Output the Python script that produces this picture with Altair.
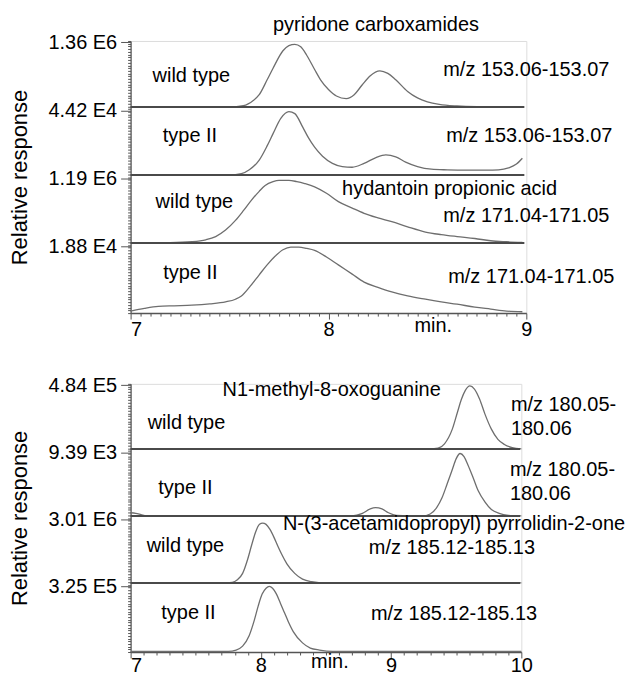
import altair as alt
import pandas as pd

FONT = "Liberation Sans"
TRACE_COLOR = "#6e6e6e"
LINE_COLOR = "#4a4a4a"
AXIS_COLOR = "#555555"
FS = 20

# ---------------- top panel: retention time 7-9 min ----------------
top_band_labels = ["1.88 E4", "1.19 E6", "4.42 E4", "1.36 E6"]  # bottom band -> top band

# band 3: pyridone carboxamides, wild type
p_wt_x = [7.0, 7.50, 7.57, 7.62, 7.65, 7.69, 7.72, 7.77, 7.80, 7.83, 7.86, 7.89, 7.93, 7.96, 8.00,
          8.04, 8.09, 8.13, 8.17, 8.21, 8.26, 8.30, 8.34, 8.40, 8.45, 8.50, 8.56, 8.65, 8.75, 8.98]
p_wt_y = [0, 0, 0.02, 0.10, 0.19, 0.42, 0.60, 0.87, 0.95, 0.97, 0.93, 0.80, 0.58, 0.42, 0.27,
          0.17, 0.13, 0.19, 0.34, 0.48, 0.56, 0.52, 0.42, 0.24, 0.14, 0.08, 0.04, 0.015, 0.005, 0]
# band 2: pyridone carboxamides, type II
p_t2_x = [7.0, 7.50, 7.56, 7.60, 7.65, 7.69, 7.72, 7.76, 7.80, 7.83, 7.87, 7.90, 7.93, 7.97, 8.02,
          8.07, 8.12, 8.18, 8.24, 8.29, 8.34, 8.39, 8.45, 8.52, 8.60, 8.70, 8.80, 8.86, 8.91, 8.95, 8.98]
p_t2_y = [0, 0, 0.02, 0.08, 0.23, 0.45, 0.64, 0.88, 0.98, 0.95, 0.74, 0.57, 0.43, 0.29, 0.18,
          0.13, 0.12, 0.18, 0.27, 0.31, 0.28, 0.20, 0.13, 0.09, 0.08, 0.075, 0.075, 0.08, 0.11, 0.17, 0.26]
# band 1: hydantoin propionic acid, wild type
h_wt_x = [7.0, 7.20, 7.31, 7.38, 7.43, 7.48, 7.53, 7.57, 7.61, 7.65, 7.68, 7.72, 7.75, 7.80, 7.84, 7.88,
          7.93, 7.99, 8.05, 8.12, 8.18, 8.25, 8.32, 8.40, 8.49, 8.57, 8.65, 8.74, 8.82, 8.90, 8.98]
h_wt_y = [0, 0.005, 0.02, 0.05, 0.10, 0.20, 0.35, 0.50, 0.66, 0.80, 0.89, 0.95, 0.97, 0.97, 0.95, 0.92,
          0.87, 0.77, 0.64, 0.54, 0.46, 0.39, 0.33, 0.25, 0.17, 0.13, 0.10, 0.07, 0.035, 0.02, 0.01]
# band 0: hydantoin propionic acid, type II
h_t2_x = [7.0, 7.07, 7.14, 7.22, 7.31, 7.40, 7.48, 7.53, 7.56, 7.60, 7.65, 7.69, 7.73, 7.77, 7.81, 7.85,
          7.89, 7.93, 7.99, 8.05, 8.12, 8.18, 8.25, 8.32, 8.40, 8.49, 8.57, 8.65, 8.74, 8.82, 8.90, 8.98]
h_t2_y = [0.02, 0.06, 0.09, 0.10, 0.11, 0.13, 0.16, 0.20, 0.25, 0.38, 0.57, 0.72, 0.85, 0.95, 0.99, 0.99,
          0.97, 0.94, 0.84, 0.72, 0.58, 0.46, 0.38, 0.31, 0.25, 0.20, 0.16, 0.125, 0.08, 0.05, 0.02, 0.01]

top_text = ["pyridone carboxamides", "wild type", "m/z 153.06-153.07", "type II", "m/z 153.06-153.07",
            "wild type", "hydantoin propionic acid", "m/z 171.04-171.05", "type II", "m/z 171.04-171.05", "min."]
top_text_x = [8.24, 7.307, 9.0, 7.30, 9.015, 7.322, 8.612, 9.0, 7.302, 9.025, 8.53]
top_text_y = [4.23, 3.49, 3.57, 2.61, 2.60, 1.64, 1.82, 1.42, 0.59, 0.53, -0.19]
top_text_align = ["center"] * 11

# ---------------- bottom panel: retention time 7-10 min ----------------
bot_band_labels = ["3.25 E5", "3.01 E6", "9.39 E3", "4.84 E5"]

# band 3: N1-methyl-8-oxoguanine, wild type
n_wt_x = [7.0, 9.30, 9.36, 9.41, 9.47, 9.51, 9.54, 9.57, 9.605, 9.64, 9.68, 9.72, 9.77, 9.82, 9.87, 9.93, 10.0]
n_wt_y = [0, 0, 0.01, 0.08, 0.31, 0.58, 0.78, 0.92, 0.99, 0.94, 0.78, 0.55, 0.31, 0.15, 0.07, 0.02, 0]
# band 2: N1-methyl-8-oxoguanine, type II
n_t2_x = [7.0, 7.04, 7.08, 7.12, 8.70, 8.78, 8.84, 8.88, 8.93, 8.98, 9.04, 9.24, 9.30, 9.35, 9.39, 9.43,
          9.47, 9.50, 9.53, 9.56, 9.59, 9.63, 9.67, 9.72, 9.77, 9.83, 9.90, 10.0]
n_t2_y = [0.05, 0.04, 0.02, 0.0, 0.0, 0.04, 0.11, 0.13, 0.11, 0.05, 0.01, 0.0, 0.03, 0.13, 0.28, 0.50,
          0.73, 0.90, 0.98, 0.93, 0.80, 0.60, 0.39, 0.22, 0.10, 0.04, 0.01, 0]
# band 1: N-(3-acetamidopropyl) pyrrolidin-2-one, wild type
a_wt_x = [7.0, 7.70, 7.78, 7.82, 7.86, 7.90, 7.93, 7.96, 7.99, 8.014, 8.04, 8.07, 8.10, 8.13, 8.16, 8.20,
          8.26, 8.32, 8.39, 8.50, 10.0]
a_wt_y = [0, 0, 0.01, 0.05, 0.15, 0.38, 0.60, 0.80, 0.92, 0.94, 0.92, 0.84, 0.72, 0.58, 0.45, 0.30,
          0.15, 0.06, 0.02, 0, 0]
# band 0: N-(3-acetamidopropyl) pyrrolidin-2-one, type II
a_t2_x = [7.0, 7.75, 7.81, 7.86, 7.91, 7.95, 7.98, 8.01, 8.04, 8.065, 8.09, 8.12, 8.15, 8.18, 8.21, 8.25,
          8.32, 8.38, 8.45, 8.55, 10.0]
a_t2_y = [0, 0, 0.02, 0.08, 0.24, 0.48, 0.70, 0.88, 0.97, 1.0, 0.97, 0.88, 0.74, 0.60, 0.46, 0.30,
          0.13, 0.05, 0.02, 0, 0]

bot_text = ["N1-methyl-8-oxoguanine", "wild type", "m/z 180.05-", "180.06", "type II", "m/z 180.05-", "180.06",
            "wild type", "N-(3-acetamidopropyl) pyrrolidin-2-one", "m/z 185.12-185.13", "type II",
            "m/z 185.12-185.13", "min."]
bot_text_x = [8.544, 7.429, 9.92, 9.92, 7.421, 9.912, 9.912, 7.421, 9.483, 9.467, 7.444, 9.483, 8.53]
bot_text_y = [3.91, 3.42, 3.69, 3.33, 2.44, 2.71, 2.35, 1.58, 1.91, 1.55, 0.58, 0.57, -0.15]
bot_text_align = ["center", "center", "left", "left", "center", "left", "left",
                  "center", "center", "center", "center", "center", "center"]


def build_panel(traces, band_labels, texts, xs, ys, aligns, xmin, xmax, xstep, width, height, xpad):
    rows = []
    for band, (tx, ty) in enumerate(traces):
        base = 0.01 if band == 0 else band + 0.03
        top = band + 0.98
        for x, n in zip(tx, ty):
            rows.append({"trace": band, "x": x, "y": base + n * (top - base)})
    df = pd.DataFrame(rows)

    sep = pd.DataFrame({"x": [xmin] * 3, "x1": [xmax - 0.01] * 3,
                        "y": [round(b + 0.03, 2) for b in (1, 2, 3)]})

    tdf = pd.DataFrame({"text": texts, "x": xs, "y": ys, "align": aligns})

    majors = [round(k + 0.98, 2) for k in range(4)]
    minors = [round(i * 0.04, 2) for i in range(101)]
    minors = [m for m in minors if all(abs(m - M) > 0.015 for M in majors)]
    yvals = sorted(minors + majors)
    lab_expr = "".join(
        f"abs(datum.value - {M}) < 0.001 ? '{L}' : " for M, L in zip(majors, band_labels)) + "''"
    major_test = " || ".join(f"abs(datum.value - {M}) < 0.001" for M in majors)

    nx = int(round((xmax - xmin) / xstep))
    xvals = [round(xmin + i * xstep, 3) for i in range(nx + 1)]
    x_test = "abs(datum.value - round(datum.value)) < 0.001"

    xscale = alt.Scale(domain=[xmin, xmax], nice=False, zero=False)
    yscale = alt.Scale(domain=[0, 4], nice=False, zero=False)

    xaxis = alt.Axis(values=xvals, title=None, grid=False,
                     labelExpr=f"{x_test} ? format(datum.value, 'd') : ''",
                     tickSize={"condition": {"test": x_test, "value": 6}, "value": 3},
                     labelAlign={"condition": {"test": f"datum.value == {xmin}", "value": "left"},
                                 "value": "center"},
                     labelFlush=False,
                     labelFont=FONT, labelFontSize=FS, labelColor="black", labelPadding=xpad,
                     labelOverlap=False, labelBound=False, domainColor=AXIS_COLOR, domainWidth=1.5,
                     tickColor=AXIS_COLOR, tickWidth=1)
    yaxis = alt.Axis(values=yvals, title="Relative response", grid=False, labelExpr=lab_expr,
                     tickSize={"condition": {"test": major_test, "value": 10}, "value": 3},
                     labelFont=FONT, labelFontSize=FS, labelColor="black", labelPadding=4,
                     labelOverlap=False, labelBound=False, domainColor=AXIS_COLOR, domainWidth=1.2,
                     tickColor=AXIS_COLOR, tickWidth=1,
                     titleFont=FONT, titleFontSize=22, titleFontWeight="normal", titleColor="black",
                     titlePadding=16)

    X = alt.X("x:Q", scale=xscale, axis=xaxis)
    Y = alt.Y("y:Q", scale=yscale, axis=yaxis)

    lines = alt.Chart(df).mark_line(color=TRACE_COLOR, strokeWidth=1.3, interpolate="monotone").encode(
        x=X, y=Y, detail="trace:N",
    )
    seps = alt.Chart(sep).mark_rule(color=LINE_COLOR, strokeWidth=2).encode(
        x=X, x2="x1:Q", y=Y
    )
    txt_c = alt.Chart(tdf).transform_filter("datum.align == 'center'").mark_text(
        font=FONT, fontSize=FS, color="black", align="center", baseline="middle"
    ).encode(x=X, y=Y, text="text:N")
    txt_l = alt.Chart(tdf).transform_filter("datum.align == 'left'").mark_text(
        font=FONT, fontSize=FS, color="black", align="left", baseline="middle"
    ).encode(x=X, y=Y, text="text:N")

    return alt.layer(lines, seps, txt_c, txt_l).properties(width=width, height=height)


top = build_panel([(h_t2_x, h_t2_y), (h_wt_x, h_wt_y), (p_t2_x, p_t2_y), (p_wt_x, p_wt_y)],
                  top_band_labels, top_text, top_text_x, top_text_y, top_text_align,
                  7, 9, 0.05, 397, 273, 0)
bottom = build_panel([(a_t2_x, a_t2_y), (a_wt_x, a_wt_y), (n_t2_x, n_t2_y), (n_wt_x, n_wt_y)],
                     bot_band_labels, bot_text, bot_text_x, bot_text_y, bot_text_align,
                     7, 10, 0.1, 392, 269, -2)

chart = alt.vconcat(top, bottom, spacing=33).properties(
    padding={"left": 0, "top": 5, "right": 0, "bottom": 0}
).configure_view(stroke=None).configure(background="white")

chart.save("out.html", embed_options={"renderer": "svg", "actions": False})
